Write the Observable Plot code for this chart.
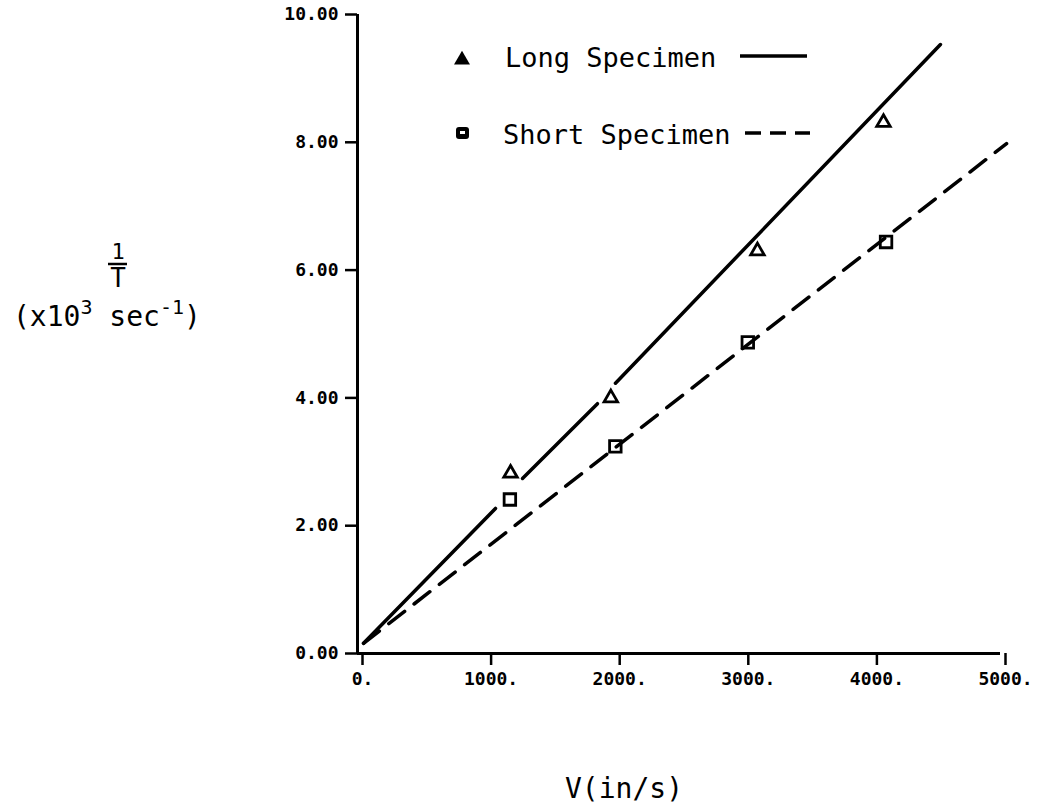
<!DOCTYPE html>
<html>
<head>
<meta charset="utf-8">
<script src="https://cdn.jsdelivr.net/npm/d3@7"></script>
<script src="https://cdn.jsdelivr.net/npm/@observablehq/plot@0.6"></script>
<style>
  html, body { margin: 0; padding: 0; background: #fff; }
  #chart { width: 1037px; height: 812px; overflow: hidden; }
</style>
</head>
<body>
<div id="chart"></div>
<script>
// ---- data ----
const xTicks = [0, 1000, 2000, 3000, 4000, 5000];
const yTicks = [0, 2, 4, 6, 8, 10];

// Long specimen (triangles)
const longV   = [1190, 1970, 3110, 4090];
const longInv = [2.82, 4.00, 6.30, 8.31];
// Short specimen (squares)
const shortV   = [1185, 2005, 3035, 4110];
const shortInv = [2.41, 3.24, 4.87, 6.44];

// Fitted solid line (long), drawn in segments with gaps near the first two symbols
const longFitSeg = [0, 0, 1, 1, 2, 2];
const longFitV   = [47, 1073, 1283, 1866, 2006, 4533];
const longFitInv = [0.16, 2.27, 2.74, 3.91, 4.23, 9.53];
// Fitted dashed line (short)
const shortFitV   = [47, 5047];
const shortFitInv = [0.16, 7.98];

const longPts  = longV.map((v, i) => ({v, inv: longInv[i]}));
const shortPts = shortV.map((v, i) => ({v, inv: shortInv[i]}));
const longFit  = longFitV.map((v, i) => ({v, inv: longFitInv[i], seg: longFitSeg[i]}));
const shortFit = shortFitV.map((v, i) => ({v, inv: shortFitInv[i]}));

const mono = "DejaVu Sans Mono";

const plot = Plot.plot({
  width: 1037,
  height: 812,
  marginLeft: 357,
  marginRight: 37,
  marginTop: 14,
  marginBottom: 159,
  style: { fontFamily: mono, fontSize: "18px", background: "#fff", color: "#000", overflow: "visible" },
  x: { domain: [0, 5000] },
  y: { domain: [0, 10] },
  marks: [
    Plot.ruleY([0], { stroke: "#000", strokeWidth: 3 }),
    Plot.ruleX([0], { stroke: "#000", strokeWidth: 3 }),
    Plot.axisX({ ticks: xTicks, tickSize: 12, tickPadding: 7, strokeWidth: 2.5, tickFormat: d => d + ".", label: null, fontSize: 18, fontWeight: "bold", dx: 5 }),
    Plot.axisY({ ticks: yTicks, tickSize: 12, tickPadding: 7, strokeWidth: 2.5, tickFormat: d => d.toFixed(2), label: null, fontSize: 18, fontWeight: "bold" }),
    Plot.line(longFit, { x: "v", y: "inv", z: "seg", stroke: "#000", strokeWidth: 3.5, strokeLinecap: "round" }),
    Plot.line(shortFit, { x: "v", y: "inv", stroke: "#000", strokeWidth: 3.5, strokeDasharray: "20,12" }),
    Plot.dot(longPts, { x: "v", y: "inv", symbol: "triangle", r: 5, stroke: "#000", strokeWidth: 2.8, fill: "none" }),
    Plot.dot(shortPts, { x: "v", y: "inv", symbol: "square", r: 6.5, stroke: "#000", strokeWidth: 2.8, fill: "none" })
  ]
});

document.getElementById("chart").appendChild(plot);

// ---- titles and legend drawn as real SVG text ----
const svg = d3.select(plot);
const g = svg.append("g")
  .attr("font-family", mono)
  .attr("font-weight", "normal")
  .attr("text-anchor", "start")
  .attr("fill", "#000");

// y-axis title: 1 / T
g.append("text").attr("x", 118).attr("y", 259).attr("text-anchor", "middle")
  .attr("font-size", 22).text("1");
g.append("line").attr("x1", 108).attr("x2", 127).attr("y1", 264).attr("y2", 264)
  .attr("stroke", "#000").attr("stroke-width", 2.5);
g.append("text").attr("x", 118).attr("y", 287).attr("text-anchor", "middle")
  .attr("font-size", 26).text("T");

const yt = g.append("text").attr("x", 13).attr("y", 326).attr("font-size", 28).attr("text-anchor", "start");
yt.append("tspan").text("(x10");
yt.append("tspan").attr("dy", -12).attr("font-size", 20).text("3");
yt.append("tspan").attr("dy", 12).text(" sec");
yt.append("tspan").attr("dy", -12).attr("font-size", 20).text("-1");
yt.append("tspan").attr("dy", 12).text(")");

// x-axis title
g.append("text").attr("x", 565).attr("y", 798).attr("font-size", 28).attr("text-anchor", "start").text("V(in/s)");

// legend
const tri = d3.symbol(d3.symbolTriangle, 110)();
g.append("path").attr("d", tri).attr("transform", "translate(462,60)").attr("fill", "#000");
g.append("rect").attr("x", 456).attr("y", 127).attr("width", 13).attr("height", 12).attr("rx", 3).attr("fill", "#000");
g.append("rect").attr("x", 460).attr("y", 131).attr("width", 5).attr("height", 3).attr("fill", "#fff");

g.append("text").attr("x", 505).attr("y", 67).attr("font-size", 27).attr("text-anchor", "start").text("Long Specimen");
g.append("line").attr("x1", 740).attr("x2", 807).attr("y1", 56).attr("y2", 56)
  .attr("stroke", "#000").attr("stroke-width", 3.5);

g.append("text").attr("x", 503).attr("y", 144).attr("font-size", 27).attr("text-anchor", "start").text("Short Specimen");
g.append("line").attr("x1", 745).attr("x2", 810).attr("y1", 133).attr("y2", 133)
  .attr("stroke", "#000").attr("stroke-width", 3.5).attr("stroke-dasharray", "16,9");
</script>
</body>
</html>
